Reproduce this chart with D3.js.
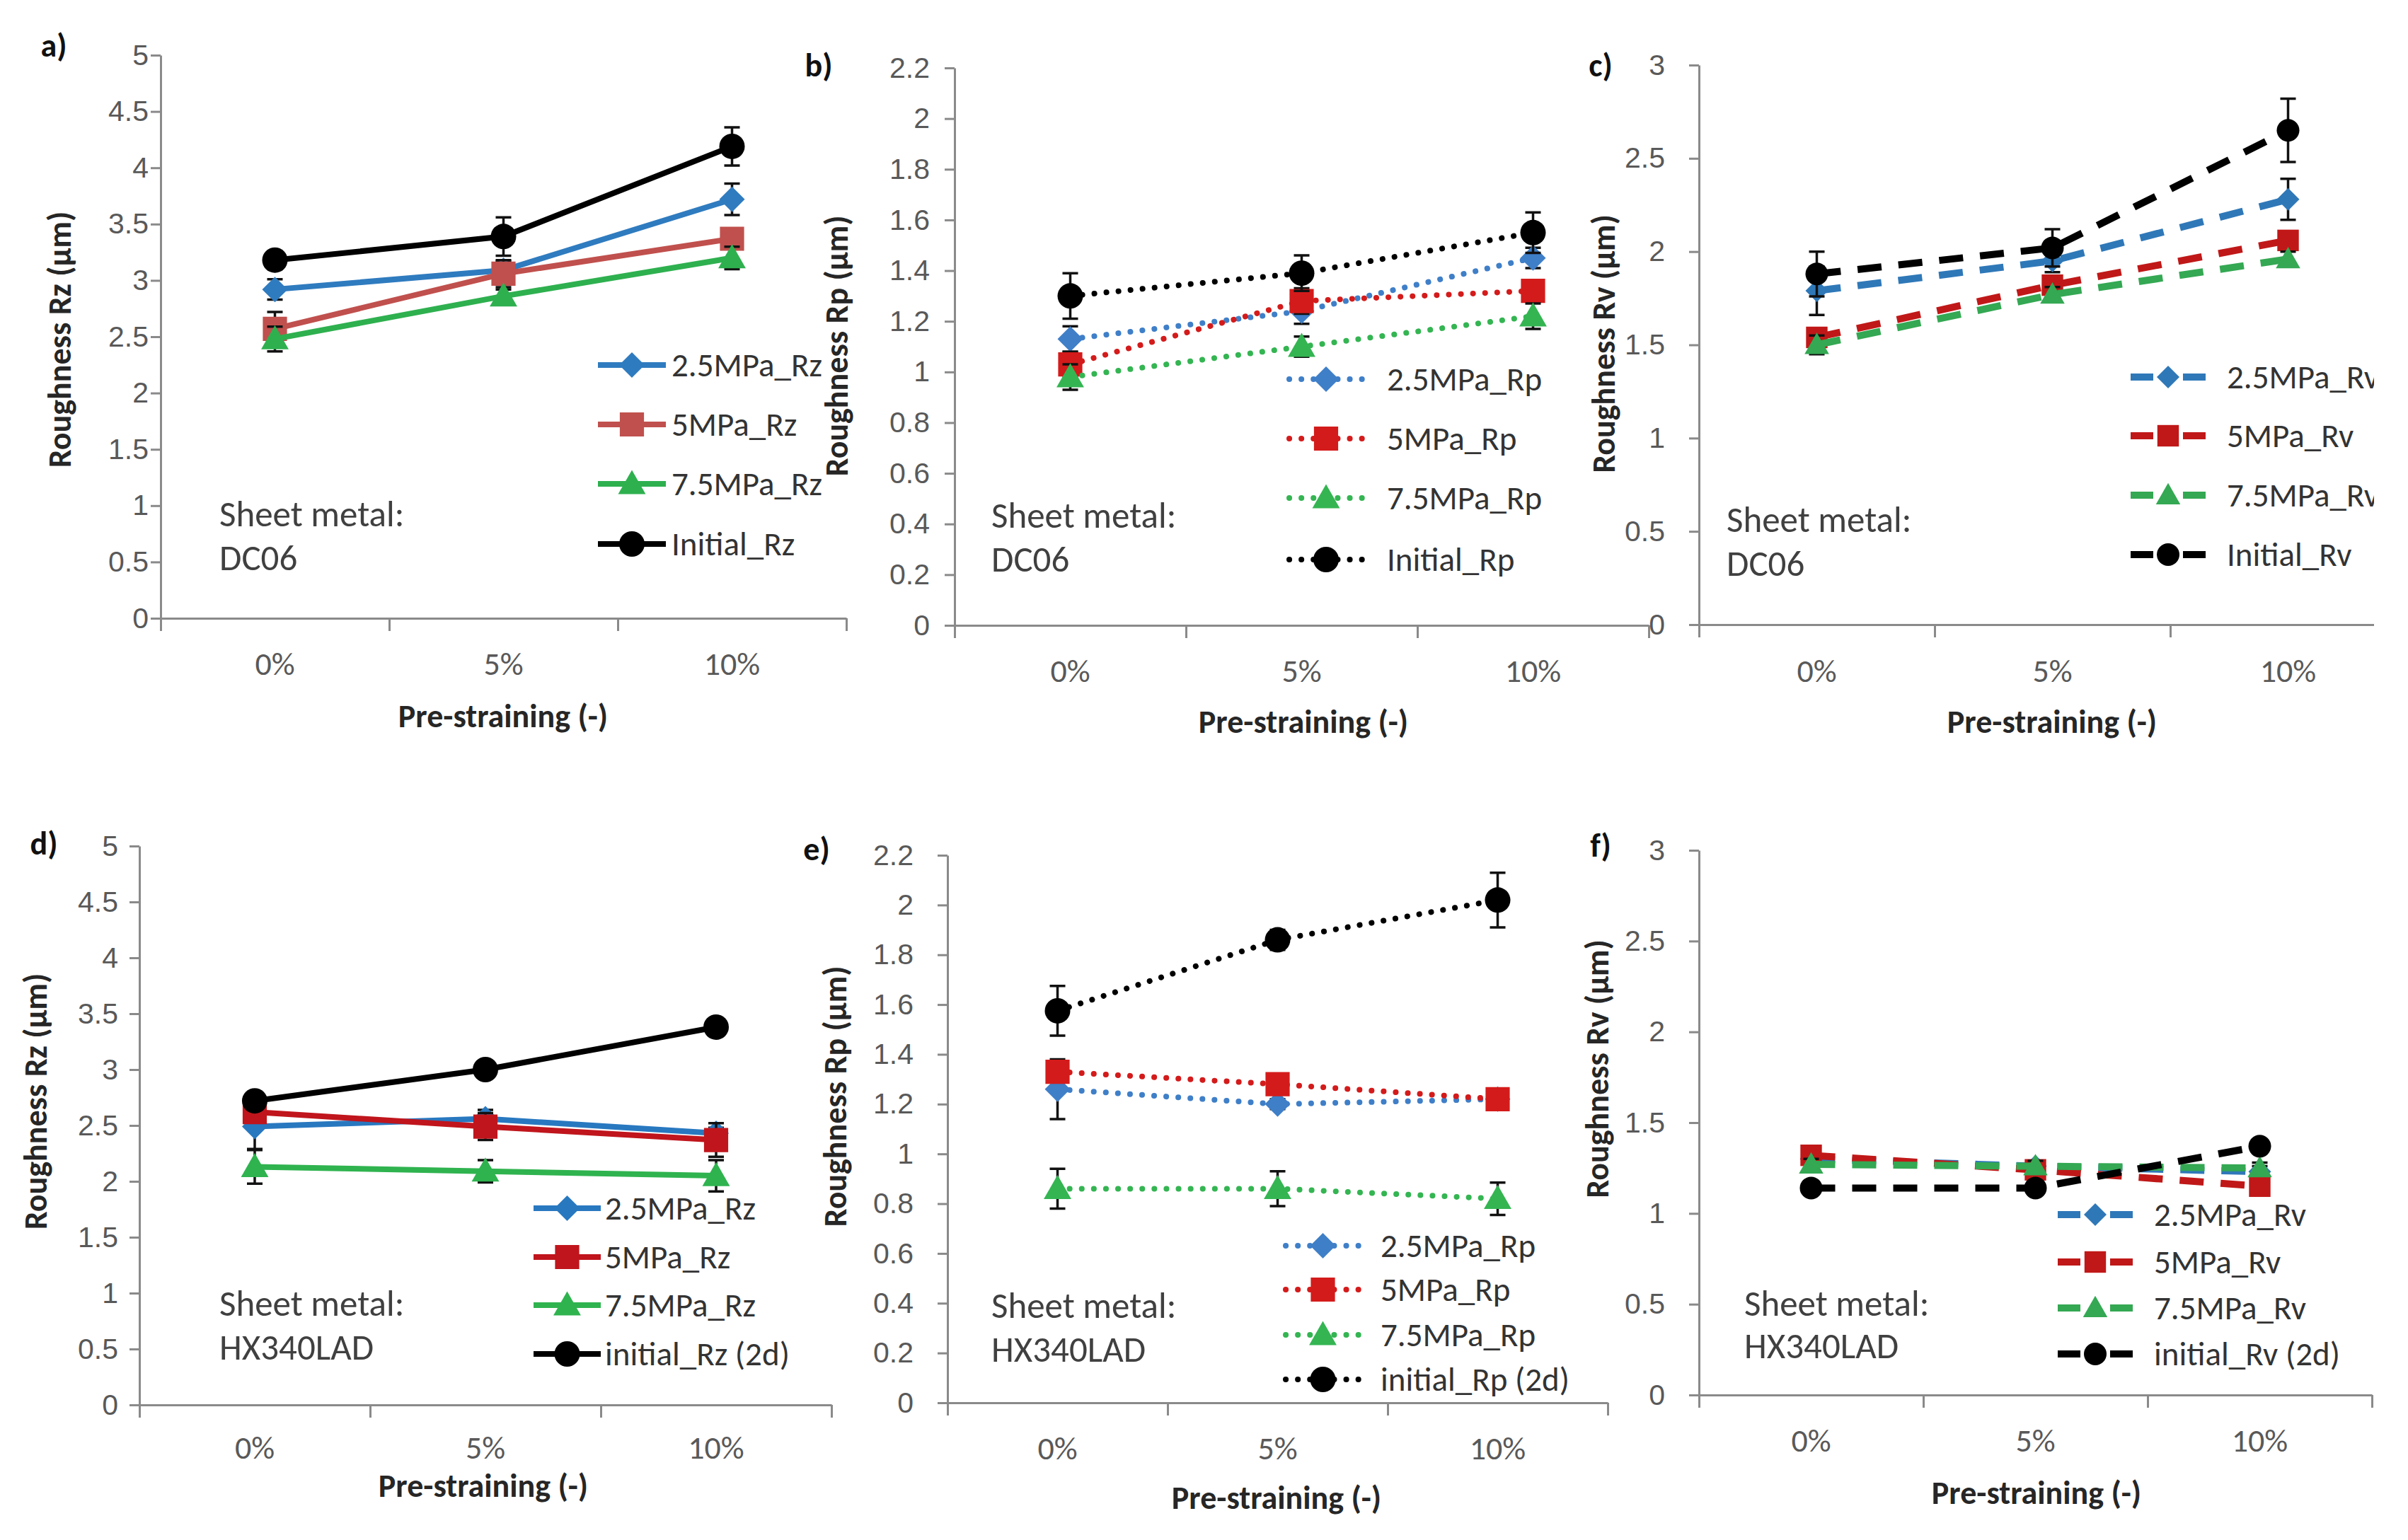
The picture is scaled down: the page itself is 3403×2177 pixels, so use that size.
<!DOCTYPE html>
<html>
<head>
<meta charset="utf-8">
<script src="https://cdn.jsdelivr.net/npm/d3@7"></script>
<style>
  body { margin: 0; background: #fff; }
  svg { display: block; font-family: Carlito, Lato, "Open Sans", sans-serif; }
  .axis path, .axis line { stroke: #8a8a8a; stroke-width: 3; }
  .axis text { fill: #595959; font-size: 41px; }
</style>
</head>
<body>
<div id="chart"></div>
<script>
// categories on the x axis
const categories = ["0%", "5%", "10%"];

// legend names
const namesRzDC = ["2.5MPa_Rz", "5MPa_Rz", "7.5MPa_Rz", "Initial_Rz"];
const namesRpDC = ["2.5MPa_Rp", "5MPa_Rp", "7.5MPa_Rp", "Initial_Rp"];
const namesRvDC = ["2.5MPa_Rv", "5MPa_Rv", "7.5MPa_Rv", "Initial_Rv"];
const namesRzHX = ["2.5MPa_Rz", "5MPa_Rz", "7.5MPa_Rz", "initial_Rz (2d)"];
const namesRpHX = ["2.5MPa_Rp", "5MPa_Rp", "7.5MPa_Rp", "initial_Rp (2d)"];
const namesRvHX = ["2.5MPa_Rv", "5MPa_Rv", "7.5MPa_Rv", "initial_Rv (2d)"];

// values (µm), rows: 2.5MPa, 5MPa, 7.5MPa, initial
const rzDC06 = [[2.92, 3.09, 3.72], [2.57, 3.06, 3.37], [2.48, 2.86, 3.20], [3.18, 3.39, 4.19]];
const rzDC06Err = [[0.09, 0.08, 0.14], [0.15, 0.12, 0.08], [0.11, 0.06, 0.10], [0.08, 0.17, 0.17]];
const rpDC06 = [[1.13, 1.24, 1.45], [1.03, 1.28, 1.32], [0.98, 1.10, 1.22], [1.30, 1.39, 1.55]];
const rpDC06Err = [[0.05, 0.05, 0.04], [0.05, 0.05, 0.04], [0.05, 0.04, 0.05], [0.09, 0.07, 0.08]];
const rvDC06 = [[1.79, 1.95, 2.28], [1.54, 1.82, 2.06], [1.50, 1.77, 1.96], [1.88, 2.02, 2.65]];
const rvDC06Err = [[0.13, 0.06, 0.11], [0.05, 0.04, 0.05], [0.05, 0.04, 0.04], [0.12, 0.10, 0.17]];
const rzHX = [[2.49, 2.56, 2.43], [2.62, 2.49, 2.37], [2.13, 2.09, 2.05], [2.72, 3.00, 3.38]];
const rzHXErr = [[0.20, 0.08, 0.05], [0.08, 0.12, 0.15], [0.15, 0.10, 0.14], [0.05, 0.04, 0.07]];
const rpHX = [[1.26, 1.20, 1.22], [1.33, 1.28, 1.22], [0.86, 0.86, 0.82], [1.575, 1.86, 2.02]];
const rpHXErr = [[0.12, 0.02, 0.03], [0.03, 0.03, 0.04], [0.08, 0.07, 0.065], [0.10, 0.04, 0.11]];
const rvHX = [[1.30, 1.26, 1.23], [1.32, 1.24, 1.15], [1.27, 1.26, 1.25], [1.14, 1.14, 1.37]];
const rvHXErr = [[0.03, 0.03, 0.03], [0.03, 0.03, 0.03], [0.03, 0.03, 0.03], [0.02, 0.02, 0.03]];

// y axis ranges
const yMaxRz = 5, yStepRz = 0.5;
const yMaxRp = 2.2, yStepRp = 0.2;
const yMaxRv = 3, yStepRv = 0.5;

const W = 3403, H = 2177;

const svg = d3.select("#chart").append("svg")
  .attr("width", W).attr("height", H);
svg.append("rect").attr("width", W).attr("height", H).attr("fill", "#fff");

// right edge of the original figure is cut
svg.append("defs").append("clipPath").attr("id", "cut")
  .append("rect").attr("x", 0).attr("y", 0).attr("width", 3355).attr("height", H);

const markers = ["diamond", "square", "triangle", "circle"];

function markerPath(type, s) {
  if (type === "diamond") return `M0,${-s}L${s},0L0,${s}L${-s},0Z`;
  if (type === "square") { const h = s * 0.95; return `M${-h},${-h}H${h}V${h}H${-h}Z`; }
  if (type === "triangle") { const h = s * 1.08; return `M0,${-h}L${h},${h * 0.75}L${-h},${h * 0.75}Z`; }
  return d3.arc()({ innerRadius: 0, outerRadius: s * 1.0, startAngle: 0, endAngle: 2 * Math.PI });
}

function drawPanel(cfg) {
  const g = svg.append("g");
  if (cfg.clip) g.attr("clip-path", "url(#cut)");

  const x1 = cfg.x0 + cfg.band * 3;
  const xBand = d3.scaleBand().domain(categories).range([cfg.x0, x1]);
  const xLin = d3.scaleLinear().domain([0, 3]).range([cfg.x0, x1]);
  const y = d3.scaleLinear().domain([0, cfg.yMax]).range([cfg.yBot, cfg.yTop]);
  const cx = (c) => xBand(c) + xBand.bandwidth() / 2;

  // y axis
  const yTicks = d3.range(0, cfg.yMax + 1e-6, cfg.yStep);
  g.append("g")
    .attr("class", "axis")
    .attr("transform", `translate(${cfg.x0},0)`)
    .call(d3.axisLeft(y).tickValues(yTicks).tickSize(14).tickSizeOuter(0).tickPadding(8)
      .tickFormat((d) => String(+d.toFixed(1))))
    .call((a) => a.selectAll("text").attr("x", cfg.tickRight - cfg.x0));

  // x axis: tick marks between categories
  g.append("g")
    .attr("class", "axis")
    .attr("transform", `translate(0,${cfg.yBot})`)
    .call(d3.axisBottom(xLin).tickValues([0, 1, 2, 3]).tickSize(18).tickSizeOuter(0).tickFormat(""));

  // category labels
  g.selectAll(".xlab")
    .data(categories)
    .join("text")
    .attr("x", cx)
    .attr("y", cfg.xLabelY)
    .attr("text-anchor", "middle")
    .attr("dominant-baseline", "central")
    .attr("fill", "#595959")
    .attr("font-size", 46)
    .text((d) => d);

  // axis titles
  g.append("text")
    .attr("x", cfg.xTitle[0]).attr("y", cfg.xTitle[1])
    .attr("text-anchor", "middle").attr("dominant-baseline", "central")
    .attr("font-weight", "bold").attr("font-size", 46).attr("fill", "#262626")
    .text("Pre-straining (-)");
  g.append("text")
    .attr("transform", `translate(${cfg.yTitle[0]},${cfg.yTitle[1]}) rotate(-90)`)
    .attr("text-anchor", "middle").attr("dominant-baseline", "central")
    .attr("font-weight", "bold").attr("font-size", 46).attr("fill", "#262626")
    .text(cfg.yName);

  // panel letter
  svg.append("text")
    .attr("x", cfg.letter[0]).attr("y", cfg.letter[1])
    .attr("text-anchor", "middle").attr("dominant-baseline", "central")
    .attr("font-weight", "bold").attr("font-size", 46).attr("fill", "#111")
    .text(cfg.letterText);

  // sheet metal note
  g.append("text")
    .attr("x", cfg.sheet[0]).attr("y", cfg.sheet[1])
    .attr("dominant-baseline", "central").attr("font-size", 51).attr("fill", "#404040")
    .text("Sheet metal:");
  g.append("text")
    .attr("x", cfg.sheet[0]).attr("y", cfg.sheet[2])
    .attr("dominant-baseline", "central").attr("font-size", 51).attr("fill", "#404040")
    .text(cfg.metal);

  const line = d3.line().x((d, i) => cx(categories[i])).y((d) => y(d));

  cfg.values.forEach((vals, k) => {
    const col = cfg.colors[k];
    const sg = g.append("g");

    // error bars
    vals.forEach((v, i) => {
      const e = cfg.errs[k][i];
      const xc = cx(categories[i]);
      sg.append("path")
        .attr("d", `M${xc},${y(v - e)}V${y(v + e)}M${xc - 11},${y(v - e)}H${xc + 11}M${xc - 11},${y(v + e)}H${xc + 11}`)
        .attr("stroke", "#111").attr("stroke-width", 3.5).attr("fill", "none");
    });

    sg.append("path")
      .datum(vals)
      .attr("d", line)
      .attr("fill", "none")
      .attr("stroke", col)
      .attr("stroke-width", cfg.lw)
      .attr("stroke-dasharray", cfg.dash)
      .attr("stroke-linecap", cfg.cap);

    sg.selectAll(".mk")
      .data(vals)
      .join("path")
      .attr("transform", (d, i) => `translate(${cx(categories[i])},${y(d)})`)
      .attr("d", markerPath(markers[k], cfg.ms))
      .attr("fill", col);
  });

  // legend
  const lg = cfg.legend;
  cfg.names.forEach((n, k) => {
    const ry = lg.rows[k];
    const col = cfg.colors[k];
    const len = lg.x1 - lg.x0;
    g.append("line")
      .attr("x1", lg.x0).attr("x2", lg.x1).attr("y1", ry).attr("y2", ry)
      .attr("stroke", col).attr("stroke-width", cfg.lw)
      .attr("stroke-linecap", cfg.cap)
      .attr("stroke-dasharray", cfg.legendDash ? cfg.legendDash(len) : cfg.dash);
    g.append("path")
      .attr("transform", `translate(${(lg.x0 + lg.x1) / 2},${ry})`)
      .attr("d", markerPath(markers[k], cfg.ms))
      .attr("fill", col);
    g.append("text")
      .attr("x", lg.text).attr("y", ry)
      .attr("dominant-baseline", "central")
      .attr("font-size", 47).attr("fill", "#333")
      .text(n);
  });
}

const solid = { lw: 8, dash: null, cap: "butt" };
const dotted = { lw: 8, dash: "0.1,17", cap: "round" };
const dashed = { lw: 10, dash: "34,24", cap: "butt", legendDash: (L) => `32,${L - 64},32` };

drawPanel(Object.assign({}, solid, {
  letterText: "a)", letter: [76, 64], x0: 227, band: 323, yTop: 78, yBot: 874,
  yMax: yMaxRz, yStep: yStepRz, tickRight: 210, xLabelY: 938, xTitle: [711, 1012], yTitle: [84, 480],
  yName: "Roughness Rz (µm)", metal: "DC06", sheet: [310, 726, 788],
  legend: { x0: 845, x1: 941, text: 949, rows: [516, 600, 684, 769] },
  values: rzDC06, errs: rzDC06Err, names: namesRzDC, ms: 18,
  colors: ["#2f7bbf", "#c0504d", "#2eb04f", "#000"]
}));

drawPanel(Object.assign({}, dotted, {
  letterText: "b)", letter: [1157, 92], x0: 1349, band: 327, yTop: 96, yBot: 884,
  yMax: yMaxRp, yStep: yStepRp, tickRight: 1314, xLabelY: 948, xTitle: [1842, 1020], yTitle: [1182, 489],
  yName: "Roughness Rp (µm)", metal: "DC06", sheet: [1401, 728, 790],
  legend: { x0: 1822, x1: 1926, text: 1960, rows: [536, 620, 704, 791] },
  values: rpDC06, errs: rpDC06Err, names: namesRpDC, ms: 18,
  colors: ["#3f7fc8", "#d41b1b", "#34b552", "#000"]
}));

drawPanel(Object.assign({}, dashed, {
  letterText: "c)", letter: [2262, 92], x0: 2401, band: 333, yTop: 92, yBot: 883, clip: true,
  yMax: yMaxRv, yStep: yStepRv, tickRight: 2353, xLabelY: 948, xTitle: [2900, 1020], yTitle: [2266, 486],
  yName: "Roughness Rv (µm)", metal: "DC06", sheet: [2440, 734, 796],
  legend: { x0: 3011, x1: 3117, text: 3147, rows: [533, 616, 700, 784] },
  values: rvDC06, errs: rvDC06Err, names: namesRvDC, ms: 16,
  colors: ["#2f78b8", "#c01818", "#34a853", "#000"]
}));

drawPanel(Object.assign({}, solid, {
  letterText: "d)", letter: [62, 1192], x0: 197, band: 326, yTop: 1196, yBot: 1986,
  yMax: yMaxRz, yStep: yStepRz, tickRight: 167, xLabelY: 2046, xTitle: [683, 2100], yTitle: [50, 1557],
  yName: "Roughness Rz (µm)", metal: "HX340LAD", sheet: [310, 1842, 1904],
  legend: { x0: 754, x1: 849, text: 855, rows: [1708, 1777, 1845, 1914] },
  values: rzHX, errs: rzHXErr, names: namesRzHX, ms: 18,
  colors: ["#2878c0", "#c0151c", "#2fb34f", "#000"]
}));

drawPanel(Object.assign({}, dotted, {
  letterText: "e)", letter: [1154, 1200], x0: 1339, band: 311, yTop: 1209, yBot: 1983,
  yMax: yMaxRp, yStep: yStepRp, tickRight: 1291, xLabelY: 2047, xTitle: [1804, 2117], yTitle: [1180, 1550],
  yName: "Roughness Rp (µm)", metal: "HX340LAD", sheet: [1401, 1845, 1907],
  legend: { x0: 1817, x1: 1922, text: 1951, rows: [1761, 1823, 1887, 1950] },
  values: rpHX, errs: rpHXErr, names: namesRpHX, ms: 18,
  colors: ["#3f7fc8", "#d41b1b", "#34b552", "#000"]
}));

drawPanel(Object.assign({}, dashed, {
  letterText: "f)", letter: [2262, 1195], x0: 2401, band: 317, yTop: 1202, yBot: 1972, clip: true,
  yMax: yMaxRv, yStep: yStepRv, tickRight: 2353, xLabelY: 2036, xTitle: [2878, 2110], yTitle: [2257, 1511],
  yName: "Roughness Rv (µm)", metal: "HX340LAD", sheet: [2465, 1842, 1902],
  legend: { x0: 2908, x1: 3014, text: 3044, rows: [1717, 1784, 1849, 1914] },
  values: rvHX, errs: rvHXErr, names: namesRvHX, ms: 16,
  colors: ["#2f78b8", "#c01818", "#34a853", "#000"]
}));
</script>
</body>
</html>
